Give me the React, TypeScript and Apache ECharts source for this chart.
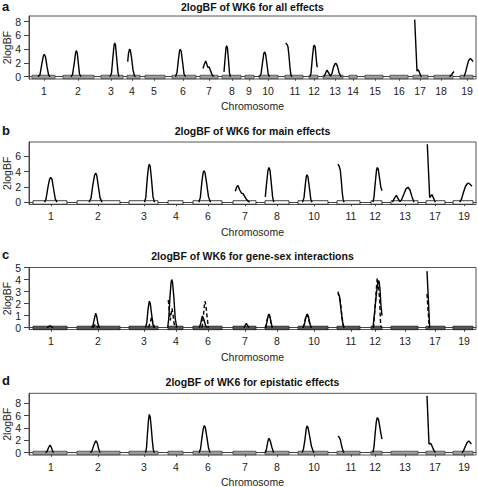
import React, { useEffect, useRef } from "react";
import * as echarts from "echarts";

// ---------- Panel a : all effects (19 chromosomes) ----------
const chromA = ["1","2","3","4","5","6","7","8","9","10","11","12","13","14","15","16","17","18","19"];
const segStartA = [32,63,101,127,145,172,200,222,245,259,285,309,323,349,365,390,413,434,460];
const segEndA   = [55,94,123,140,165,196,218,241,254,278,303,318,343,357,383,408,428,453,473];
const tickPosA  = [44,78,111,132,154,183,209,232,249,268,295,314,335,353,375,399,420,441,467];
const curveA: number[][][] = [
  [[38,0],[40,0.3],[42,2.0],[43.3,3.0],[44.3,3.25],[45.5,2.9],[47,1.5],[48.5,0.3],[50,0]],
  [[71,0],[72.5,0.3],[74.5,2.2],[75.5,3.4],[76.3,3.8],[77.3,3.4],[78.3,2.0],[79.5,0.4],[81,0]],
  [[110,0],[111.5,0.5],[113,3.0],[114,4.5],[114.7,4.9],[115.5,4.6],[116.5,3.0],[118,0.6],[119,0]],
  [[127.7,2.2],[128.5,3.4],[129.5,4.0],[130.3,3.9],[131.5,2.8],[133,1.0],[134.5,0.1],[135.5,0]],
  [[175.5,0],[177,0.6],[178.5,2.6],[179.6,3.8],[180.3,4.0],[181.2,3.7],[182.5,2.2],[184,0.4],[185.5,0]],
  [[203,1.2],[204.5,1.9],[205.7,2.3],[206.7,1.9],[207.7,1.35],[209,1.45],[210.5,0.9],[212,0.3],[213.5,0]],
  [[224,0.7],[225,2.5],[226,4.2],[226.7,4.5],[227.5,4.1],[228.5,2.4],[229.5,0.5],[230.5,0]],
  [[259.5,0],[261,0.4],[262.5,2.0],[263.8,3.4],[264.7,3.6],[265.6,3.3],[266.8,2.0],[268.2,0.4],[269.5,0]],
  [[285.7,4.9],[287,4.7],[288,4.35],[289,3.0],[290,1.3],[291,0.2],[292,0]],
  [[310,0],[311,0.5],[312.5,3.0],[313.6,4.4],[314.3,4.6],[315.2,4.3],[316,3.0],[316.8,1.8],[317.3,1.35]],
  [[324,0],[325.5,0.5],[327,0.97],[328.5,0.6],[330.5,0.1],[332,0.5],[333.5,1.4],[335,1.9],[336,1.94],[337.5,1.5],[339,0.6],[340.5,0.1],[341.5,0]],
  [[414.7,8.3],[417,0.8],[418,1.05],[419.3,0.7],[420.5,0.2],[421.5,0]],
  [[449.5,0],[451,0.2],[452.5,0.5],[454,0.75]],
  [[464,0],[465.5,0.6],[467,1.5],[468.5,2.3],[470.3,2.65],[471.5,2.5],[473,2.2]],
];

// ---------- Panels b, c, d : 13 chromosomes ----------
const chromB = ["1","2","3","4","6","7","8","10","11","12","13","17","19"];
const segStartB = [33,77,129,168,193,233,265,298,337,371,391,426,453];
const segEndB   = [67,120,158,183,222,256,289,328,360,382,418,445,473];
const tickPosB  = [51,98,144,176,208,245,277,314,351,375,405,435,464];

const curveB: number[][][] = [
  [[44.5,0],[46,0.4],[48,2.0],[49.5,3.0],[50.7,3.26],[52,3.0],[53.5,1.8],[55.3,0.4],[57,0]],
  [[89,0],[91,0.5],[93,2.4],[94.5,3.5],[95.7,3.83],[96.8,3.5],[98.2,2.2],[100,0.6],[102,0]],
  [[144.5,0],[145.8,0.6],[147.3,3.2],[148.5,4.6],[149.3,5.0],[150.2,4.7],[151.5,3.0],[153,0.7],[154.5,0]],
  [[198.8,0],[200.3,0.6],[202,2.8],[203.2,3.9],[204,4.13],[205,3.9],[206.5,2.6],[208.5,0.7],[210.5,0]],
  [[235.3,1.43],[236.7,2.0],[238,2.2],[239.7,1.6],[241.5,1.2],[243,1.13],[244.5,0.8],[246.3,0.4],[248,0.15],[249.7,0]],
  [[265.3,0.7],[266.5,2.4],[268,4.2],[269,4.56],[270,4.2],[271.3,2.5],[272.6,0.7],[273.7,0]],
  [[302.5,0],[304,0.6],[305.5,2.5],[306.3,3.4],[307,3.6],[308,3.3],[309.3,2.0],[310.8,0.4],[312,0]],
  [[338,5.0],[339.2,4.7],[340.3,4.2],[341.3,2.8],[342.3,1.2],[343.2,0.3],[344,0]],
  [[373,0],[374,0.7],[375.3,2.6],[376.5,4.2],[377.3,4.56],[378.3,4.3],[379.5,3.2],[380.8,2.0],[382,1.5]],
  [[392.5,0],[394.3,0.5],[396.3,0.9],[398,0.5],[399.7,0.1],[401.5,0.3],[404,1.1],[406,1.75],[408,1.96],[410,1.6],[412,0.7],[414,0]],
  [[427.3,7.6],[429.7,0.6],[431,0.85],[432,1.0],[433.3,0.6],[435.3,0]],
  [[459.7,0],[461.5,0.4],[463.5,1.3],[465.5,2.1],[467.5,2.45],[468.7,2.5],[470,2.35],[472,2.1]],
];

const curveCsolid: number[][][] = [
  [[47,0],[48.5,0.08],[50,0.15],[51.5,0.08],[53,0]],
  [[91.5,0],[93,0.2],[94.5,0.8],[95.7,1.2],[96.8,0.9],[98,0.3],[99.5,0]],
  [[145.5,0],[146.8,0.4],[148,1.5],[149.3,2.2],[150.3,2.0],[151.5,1.2],[152.8,0.3],[154,0]],
  [[167.7,0],[168.8,0.8],[170,2.6],[171,3.7],[171.7,4.0],[172.5,3.8],[173.8,2.6],[175.2,0.8],[176.7,0]],
  [[199.3,0],[200.8,0.4],[202.3,0.97],[203.8,0.7],[205.5,0.2],[207,0]],
  [[244,0],[245.2,0.2],[246.3,0.35],[247.5,0.2],[248.8,0]],
  [[265.7,0],[267,0.5],[268.2,1.0],[269,1.13],[270,0.9],[271.2,0.4],[272.3,0]],
  [[303,0],[304.5,0.3],[306,0.9],[307.3,1.13],[308.5,0.9],[310,0.3],[311.3,0]],
  [[338,2.85],[339.5,2.6],[341,1.5],[342.5,0.5],[344,0]],
  [[373,0],[374.5,1.2],[376,2.5],[377,3.2],[378,3.8],[379,3.9],[380,3.2],[381,1.8],[382,1.0]],
  [[427,4.7],[429.7,0]],
];
const curveCdashed: number[][][] = [
  [[93,0],[95.5,0.3],[98,0]],
  [[148.5,0],[150,0.4],[151.7,0.9],[153,0.4],[154.5,0]],
  [[168.3,2.3],[169.3,1.4],[170.3,0.6],[171.2,1.2],[172,1.6],[173,1.1],[174,0.4],[175,0]],
  [[202,0],[203.3,0.9],[204.3,1.8],[205,2.2],[206,1.8],[207.2,0.8],[208.5,0]],
  [[265.7,0],[267,0.6],[268.5,1.1],[269.5,1.0],[271,0.4],[272.3,0]],
  [[303,0],[304.5,0.4],[306,1.0],[307,1.1],[308.3,0.8],[310,0.2],[311,0]],
  [[338,3.0],[339,2.6],[340,2.3],[341,1.7],[342,0.9],[343.2,0.2],[344,0]],
  [[373.5,0],[375,1.6],[376.5,3.4],[377.3,4.13],[378.3,3.6],[379.5,2.5],[380.5,0.5],[381,0]],
  [[427,2.8],[428,1.5],[429.3,0]],
];

const curveD: number[][][] = [
  [[45.5,0],[47,0.2],[48.5,0.8],[50,1.25],[51.3,0.9],[52.5,0.3],[53.5,0]],
  [[90.5,0],[92,0.3],[93.8,1.2],[95.7,1.95],[97.2,1.6],[98.7,0.6],[100,0]],
  [[145.5,0],[146.5,0.8],[147.5,3.2],[148.5,5.3],[149.3,6.2],[150.2,5.8],[151.2,4.2],[152.3,2.0],[153.3,0.5],[154.3,0]],
  [[199,0],[200.5,0.6],[202,2.5],[203.3,3.9],[204.3,4.4],[205.3,4.1],[206.8,2.6],[208.5,0.8],[210,0]],
  [[265.3,0],[266.5,0.6],[267.8,1.8],[269,2.33],[270.3,1.9],[272,0.8],[273.7,0]],
  [[302,0],[303.5,0.6],[305,2.2],[306.2,3.8],[307,4.33],[308,4.1],[309.5,2.8],[311.5,1.0],[313.5,0.1],[314,0]],
  [[338,2.7],[339.3,2.5],[340.5,2.0],[341.8,1.0],[343,0.3],[344,0]],
  [[373,0],[374,1.0],[375.2,3.2],[376.3,5.0],[377.3,5.7],[378.5,5.4],[379.8,4.2],[381,3.0],[382,2.2]],
  [[427,9.2],[429,1.4],[430.7,1.5],[432,1.1],[433.5,0.5],[435.3,0]],
  [[462,0],[463.5,0.3],[465.3,1.0],[467,1.6],[468.7,1.9],[470,1.7],[471.3,1.4]],
];

const titles = [
  "2logBF of WK6 for all effects",
  "2logBF of WK6 for main effects",
  "2logBF of WK6 for gene-sex interactions",
  "2logBF of WK6 for epistatic effects",
];
const letters = ["a", "b", "c", "d"];
const yTicksA = [0, 2, 4, 6, 8];
const yTicksB = [0, 2, 4, 6];
const yTicksC = [0, 1, 2, 3, 4, 5];
const yTicksD = [0, 2, 4, 6, 8];

const FONT = "'Liberation Sans', Arial, Helvetica, sans-serif";
const X_MIN = 29;
const X_MAX = 476;

const panelTops = [16, 142, 267.5, 393.3];
const panelHeights = [63, 62.5, 62, 61.7];
const yRanges = [[-0.33, 8.83], [-0.3, 7.9], [-0.15, 5.0], [-0.37, 9.62]];
const titleY = [7, 131, 255.5, 381.5];

export default function App() {
  const ref = useRef<HTMLDivElement>(null);
  useEffect(() => {
    if (!ref.current) return;
    const chart = echarts.init(ref.current, null, { renderer: "svg" });

    const panels = [
      { chrom: chromA, s: segStartA, e: segEndA, t: tickPosA, yt: yTicksA, curves: [curveA], dashed: [] as number[][][], fill: "#9a9a9a", stroke: "#444" },
      { chrom: chromB, s: segStartB, e: segEndB, t: tickPosB, yt: yTicksB, curves: [curveB], dashed: [] as number[][][], fill: "#ffffff", stroke: "#111" },
      { chrom: chromB, s: segStartB, e: segEndB, t: tickPosB, yt: yTicksC, curves: [curveCsolid], dashed: curveCdashed, fill: "#555555", stroke: "#222" },
      { chrom: chromB, s: segStartB, e: segEndB, t: tickPosB, yt: yTicksD, curves: [curveD], dashed: [] as number[][][], fill: "#9a9a9a", stroke: "#444" },
    ];

    const grid: any[] = [];
    const xAxis: any[] = [];
    const yAxis: any[] = [];
    const series: any[] = [];
    const graphic: any[] = [];

    panels.forEach((p, i) => {
      grid.push({
        left: X_MIN, right: 478 - X_MAX, top: panelTops[i], height: panelHeights[i],
        show: true, borderColor: "#555", borderWidth: 1, backgroundColor: "transparent",
      });
      const names = p.chrom;
      const tpos = p.t;
      xAxis.push({
        type: "value", gridIndex: i, min: X_MIN, max: X_MAX,
        axisLine: { show: true, lineStyle: { color: "#444", width: 1 } },
        axisTick: { show: true, customValues: tpos, length: 4, lineStyle: { color: "#444" } },
        axisLabel: {
          show: true, customValues: tpos, margin: 6, fontSize: 10.5, color: "#222", fontFamily: FONT,
          formatter: (v: number) => { const k = tpos.indexOf(v); return k >= 0 ? names[k] : ""; },
        },
        splitLine: { show: false },
      });
      yAxis.push({
        type: "value", gridIndex: i, min: yRanges[i][0], max: yRanges[i][1],
        axisLine: { show: true, lineStyle: { color: "#444", width: 1 } },
        axisTick: { show: true, customValues: p.yt, length: 5, lineStyle: { color: "#444" } },
        axisLabel: { show: true, customValues: p.yt, margin: 8, fontSize: 10.5, color: "#222", fontFamily: FONT },
        splitLine: { show: false },
      });
      // chromosome extent bars
      series.push({
        type: "custom", xAxisIndex: i, yAxisIndex: i, z: 1,
        encode: { x: [0, 1], y: 2 },
        data: p.s.map((s, k) => [s, p.e[k], 0]),
        renderItem: (_params: any, api: any) => {
          const a = api.coord([api.value(0), 0]);
          const b = api.coord([api.value(1), 0]);
          return {
            type: "rect",
            shape: { x: a[0], y: a[1] - 1.5, width: b[0] - a[0], height: 3.5 },
            style: { fill: p.fill, stroke: p.stroke, lineWidth: 0.8 },
          };
        },
      });
      p.curves[0].forEach((c) => {
        series.push({
          type: "line", xAxisIndex: i, yAxisIndex: i, z: 3, data: c,
          showSymbol: false, symbol: "none", silent: true,
          lineStyle: { color: "#000", width: 1.4 },
        });
      });
      p.dashed.forEach((c) => {
        series.push({
          type: "line", xAxisIndex: i, yAxisIndex: i, z: 3, data: c,
          showSymbol: false, symbol: "none", silent: true,
          lineStyle: { color: "#000", width: 1.4, type: [4, 2.5] },
        });
      });
      const mid = (X_MIN + X_MAX) / 2;
      const bottom = panelTops[i] + panelHeights[i];
      graphic.push({
        type: "text", x: mid, y: titleY[i],
        style: { text: titles[i], font: `bold 10.5px ${FONT}`, fill: "#111", textAlign: "center", textVerticalAlign: "middle" },
      });
      graphic.push({
        type: "text", x: 2, y: titleY[i] - 1,
        style: { text: letters[i], font: `bold 13px ${FONT}`, fill: "#111", textAlign: "left", textVerticalAlign: "middle" },
      });
      graphic.push({
        type: "text", x: mid, y: bottom + 27,
        style: { text: "Chromosome", font: `10.5px ${FONT}`, fill: "#222", textAlign: "center", textVerticalAlign: "middle" },
      });
      graphic.push({
        type: "text", x: 7, y: panelTops[i] + panelHeights[i] / 2, rotation: Math.PI / 2,
        style: { text: "2logBF", font: `10.5px ${FONT}`, fill: "#222", textAlign: "center", textVerticalAlign: "middle" },
      });
    });

    chart.setOption({
      animation: false,
      backgroundColor: "#fff",
      grid, xAxis, yAxis, series, graphic,
    });
    return () => chart.dispose();
  }, []);
  return <div ref={ref} style={{ position: "fixed", left: 0, top: 0, width: 478, height: 487 }} />;
}
